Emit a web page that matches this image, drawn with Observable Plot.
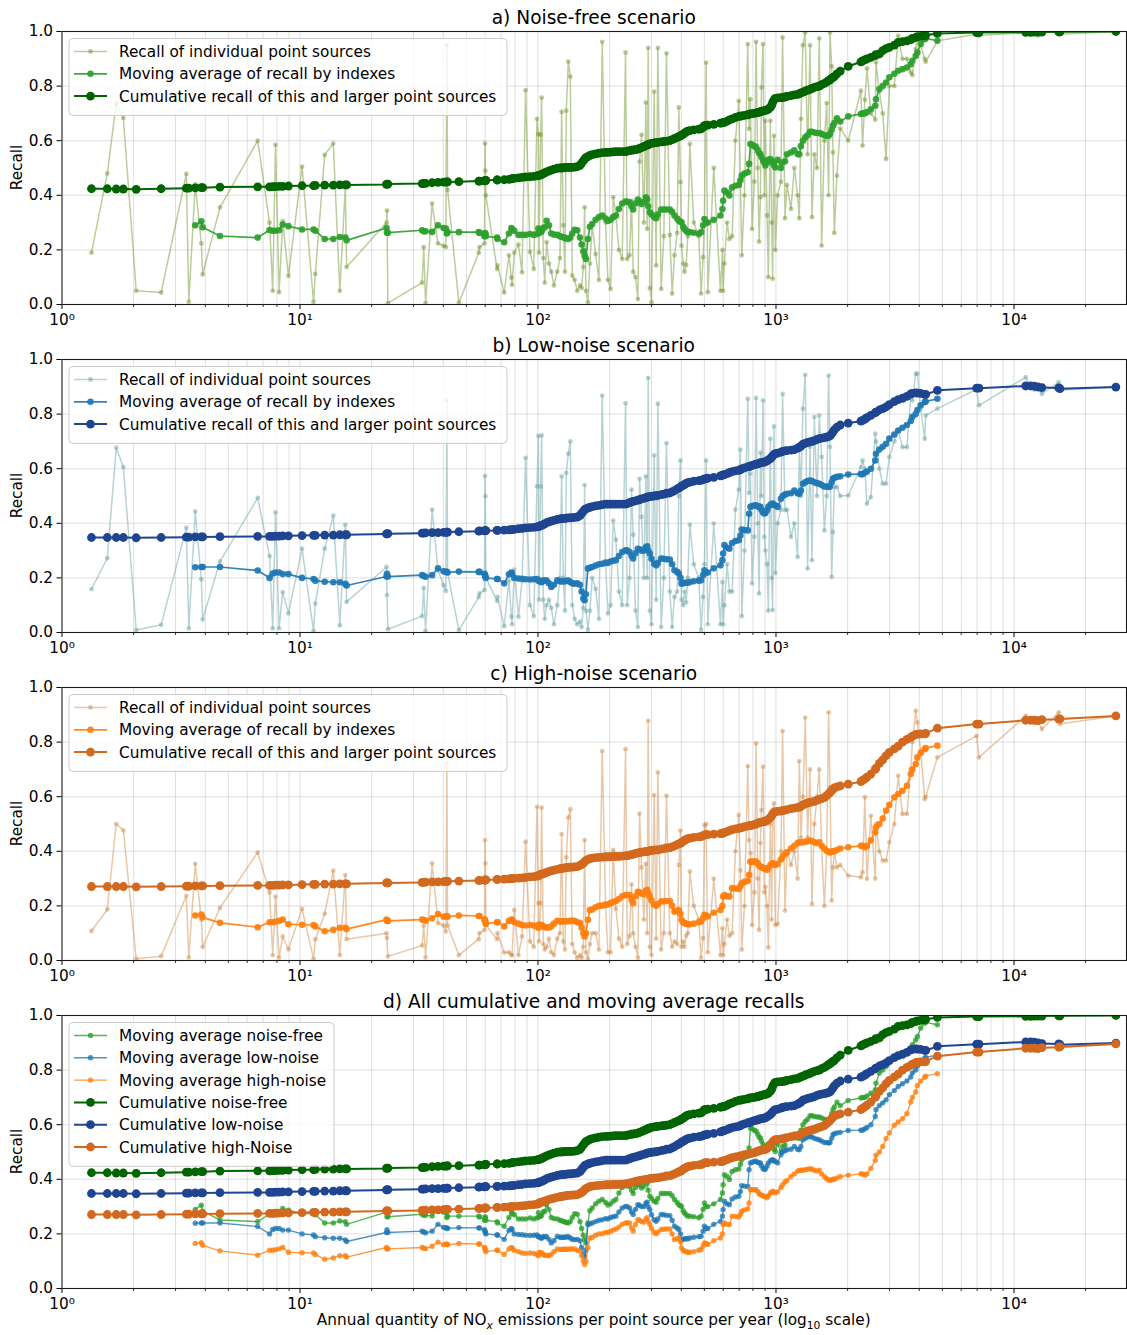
<!DOCTYPE html>
<html>
<head>
<meta charset="utf-8">
<script src="https://cdn.jsdelivr.net/npm/d3@7"></script>
<script src="https://cdn.jsdelivr.net/npm/@observablehq/plot@0.6"></script>
<style>
  body { margin: 0; background: #fff; }
  #chart { width: 1127px; }
  #chart svg { display: block; }
</style>
</head>
<body>
<div id="chart"></div>
<script>
// Annual NOx emissions of each point source (t/year), sorted ascending.
const emissions = [
  // below 100 t
  1.33, 1.55, 1.69, 1.81, 2.05, 2.61, 3.33, 3.41, 3.63, 3.85,
  3.9, 4.61, 6.64, 7.45, 7.68, 7.89, 8.17, 8.46, 8.94, 10.2,
  11.4, 11.6, 12.7, 13.8, 14.7, 15.5, 15.7, 23.1, 23.2, 23.4,
  32.6, 33.1, 33.7, 35.9, 38.0, 40.1, 41.0, 41.4, 41.7, 46.5,
  56.4, 56.8, 59.6, 59.9, 60.1, 60.4, 67.3, 67.6, 72.1, 75.5,
  77.3, 77.8, 79.5, 82.8, 85.7, 88.7, 92.5, 96.0, 99.0, 100.4,
  // 100 – 1000 t
  101, 102.6, 103.6, 105.3, 106.7, 108.7, 111.2, 113.7, 116.7, 120.5,
  123.7, 125.7, 127.7, 129.8, 131.5, 134.1, 136.7, 139.3, 142.5, 146.2,
  150.1, 152.5, 155, 157, 159, 162.1, 165.2, 169, 174.6, 180.3,
  186.2, 192.3, 196.7, 201.8, 207.1, 212.5, 218.8, 225.9, 233.3, 237.1,
  242.5, 247.2, 251.2, 256.9, 262.8, 267.1, 272.3, 278.5, 283.9, 287.6,
  290.4, 295.1, 299.9, 307.7, 313.7, 318.8, 329.2, 337.8, 346.7, 358,
  366.2, 374.5, 384.3, 390.6, 396.9, 400.8, 407.3, 412.6, 419.3, 426.1,
  434.4, 451.4, 473.7, 484.5, 494, 500.5, 508.6, 516.9, 547.7, 584.2,
  595.6, 599.5, 607.3, 623.1, 637.4, 654.1, 675.5, 697.6, 708.9, 718.1,
  736.9, 761, 770.8, 780.8, 793.5, 811.7, 824.9, 838.3, 849.2, 860.2,
  868.6, 882.2, 893.6, 902.3, 917, 928.8, 946.9, 959.2, 968.3, 980.9,
  993.6,
  // 1000 – 5000 t
  1016, 1049, 1066, 1091, 1112, 1156, 1194, 1233, 1253, 1273,
  1298, 1327, 1358, 1390, 1416, 1449, 1487, 1520, 1555, 1597,
  1633, 1664, 1686, 1714, 1735, 1758, 1803, 1862, 2011, 2274,
  2311, 2362, 2411, 2504, 2613, 2631, 2718, 2808, 2900, 2994,
  3142, 3262, 3399, 3548, 3684, 3742, 3865, 3927, 4055, 4217,
  4256, 4766,
  // largest sources
  6966, 7130, 11200, 11750, 12170, 12600, 13100, 15420, 15600, 26800
];

// ---------- noise-free scenario ----------
const recallFree = [
  0.19, 0.48, 0.737, 0.683, 0.05, 0.044, 0.478, 0.01, 0.44, 0.224,
  0.11, 0.356, 0.60, 0.30, 0.05, 0.585, 0.045, 0.305, 0.105, 0.505,
  0.01, 0.112, 0.548, 0.59, 0.05, 0.43, 0.137, 0.30, 0.344, 0.005,
  0.08, 0.21, 0.005, 0.37, 0.224, 0.215, 0.21, 0.95, 0.42, 0.006,
  0.19, 0.21, 0.224, 0.59, 0.49, 0.40, 0.13, 0.143, 0.044, 0.18,
  0.098, 0.072, 0.19, 0.22, 0.118, 0.785, 0.193, 0.13, 0.68, 0.624,
  0.19, 0.622, 0.758, 0.17, 0.08, 0.228, 0.15, 0.12, 0.07, 0.12,
  0.17, 0.706, 0.29, 0.12, 0.71, 0.89, 0.835, 0.106, 0.09, 0.05,
  0.07, 0.06, 0.137, 0.356, 0.05, 0.008, 0.15, 0.29, 0.185, 0.09,
  0.962, 0.3, 0.09, 0.057, 0.393, 0.328, 0.2, 0.167, 0.923, 0.167,
  0.18, 0.38, 0.12, 0.1, 0.02, 0.523, 0.622, 0.3, 0.74, 0.277,
  0.94, 0.06, 0.008, 0.78, 0.143, 0.94, 0.057, 0.25, 0.92, 0.255,
  0.04, 0.18, 0.262, 0.722, 0.448, 0.216, 0.15, 0.12, 0.145, 0.25,
  0.588, 0.3, 0.25, 0.04, 0.173, 0.313, 0.886, 0.045, 0.5, 0.05,
  0.2, 0.05, 0.15, 0.3, 0.24, 0.25, 0.6, 0.746, 0.45, 0.18,
  0.4, 0.954, 0.643, 0.752, 0.277, 0.45, 0.962, 0.5, 0.23, 0.393,
  0.795, 0.954, 0.4, 0.673, 0.326, 0.1, 0.673, 0.3, 0.094, 0.618,
  0.2,
  0.4, 0.45, 0.978, 0.316, 0.438, 0.35, 0.5, 0.4, 0.316, 0.68,
  0.95, 0.996, 0.55, 0.95, 0.32, 0.55, 0.5, 0.975, 0.216, 0.6,
  0.738, 0.4, 0.996, 0.872, 0.557, 0.262, 0.472, 0.645, 0.6, 0.783,
  0.582, 0.75, 0.865, 0.7, 0.677, 0.887, 0.78, 0.7, 0.533, 0.8,
  0.8, 0.984, 0.9, 0.9, 0.85, 0.84, 0.935, 0.996, 0.95, 0.9,
  0.889, 0.966,
  0.99, 0.985, 0.996, 0.99, 0.997, 0.985, 0.997, 0.998, 0.99, 1.0
];
const movingFree = [
  null, null, null, null, null, null, null, null, 0.29, 0.305,
  0.283, 0.251, 0.245, 0.273, 0.27, 0.27, 0.272, 0.293, 0.287, 0.275,
  0.275, 0.27, 0.24, 0.24, 0.247, 0.245, 0.235, 0.28, 0.263, 0.263,
  0.272, 0.268, 0.268, 0.266, 0.29, 0.28, 0.278, 0.26, 0.265, 0.265,
  0.265, 0.262, 0.25, 0.262, 0.26, 0.25, 0.245, 0.24, 0.228, 0.26,
  0.28, 0.275, 0.27, 0.255, 0.255, 0.255, 0.258, 0.255, 0.258, 0.278,
  0.262, 0.265, 0.268, 0.28, 0.283, 0.307, 0.29, 0.26, 0.256, 0.255,
  0.25, 0.248, 0.246, 0.244, 0.242, 0.24, 0.245, 0.26, 0.274, 0.272,
  0.245, 0.22, 0.195, 0.179, 0.167, 0.24, 0.285, 0.295, 0.31, 0.32,
  0.326, 0.315, 0.306, 0.31, 0.32, 0.326, 0.35, 0.37, 0.377, 0.376,
  0.374, 0.36, 0.348, 0.37, 0.384, 0.378, 0.368, 0.375, 0.393, 0.385,
  0.36, 0.338, 0.33, 0.32, 0.316, 0.33, 0.348, 0.348, 0.348, 0.348,
  0.34, 0.326, 0.315, 0.307, 0.303, 0.301, 0.285, 0.277, 0.27, 0.265,
  0.265, 0.263, 0.259, 0.265, 0.29, 0.313, 0.3, 0.3, 0.31, 0.326,
  0.35, 0.38, 0.417, 0.41, 0.399, 0.429, 0.435, 0.438, 0.455, 0.472,
  0.48, 0.484, 0.515, 0.588, 0.585, 0.58, 0.576, 0.565, 0.555, 0.551,
  0.54, 0.528, 0.52, 0.509, 0.52, 0.53, 0.533, 0.525, 0.521, 0.51,
  0.502,
  0.53, 0.5, 0.52, 0.525, 0.55, 0.557, 0.565, 0.551, 0.55, 0.58,
  0.6, 0.612, 0.62, 0.633, 0.633, 0.63, 0.628, 0.628, 0.625, 0.62,
  0.618, 0.618, 0.625, 0.64, 0.655, 0.665, 0.682, 0.67, 0.689, 0.698,
  0.7, 0.7, 0.705, 0.715, 0.728, 0.752, 0.789, 0.8, 0.813, 0.832,
  0.845, 0.856, 0.862, 0.868, 0.88, 0.893, 0.91, 0.923, 0.954, 0.972,
  0.975, 0.966,
  null, null, null, null, null, null, null, null, null, null
];
const cumulativeFree = [
  0.424, 0.424, 0.423, 0.423, 0.422, 0.424, 0.426, 0.426, 0.427, 0.428,
  0.428, 0.43, 0.431, 0.431, 0.432, 0.432, 0.433, 0.433, 0.434, 0.435,
  0.435, 0.436, 0.437, 0.437, 0.438, 0.438, 0.438, 0.44, 0.441, 0.441,
  0.443, 0.444, 0.444, 0.446, 0.447, 0.448, 0.448, 0.449, 0.449, 0.45,
  0.452, 0.452, 0.453, 0.454, 0.455, 0.455, 0.456, 0.456, 0.457, 0.458,
  0.46, 0.461, 0.462, 0.464, 0.466, 0.467, 0.468, 0.469, 0.471, 0.472,
  0.473, 0.475, 0.477, 0.479, 0.482, 0.486, 0.489, 0.492, 0.496, 0.499,
  0.5, 0.5, 0.501, 0.501, 0.502, 0.502, 0.502, 0.502, 0.503, 0.505,
  0.51, 0.518, 0.526, 0.533, 0.538, 0.542, 0.546, 0.549, 0.552, 0.554,
  0.556, 0.557, 0.557, 0.558, 0.559, 0.56, 0.56, 0.56, 0.56, 0.562,
  0.564, 0.565, 0.566, 0.567, 0.569, 0.572, 0.575, 0.578, 0.582, 0.584,
  0.586, 0.588, 0.59, 0.592, 0.593, 0.594, 0.596, 0.597, 0.598, 0.6,
  0.604, 0.608, 0.612, 0.615, 0.618, 0.62, 0.624, 0.628, 0.632, 0.635,
  0.637, 0.64, 0.642, 0.643, 0.65, 0.655, 0.656, 0.657, 0.66, 0.664,
  0.665, 0.666, 0.667, 0.672, 0.676, 0.68, 0.685, 0.689, 0.69, 0.691,
  0.693, 0.695, 0.697, 0.698, 0.699, 0.7, 0.702, 0.703, 0.705, 0.706,
  0.707, 0.709, 0.71, 0.711, 0.713, 0.716, 0.722, 0.73, 0.74, 0.75,
  0.755,
  0.757, 0.758, 0.758, 0.76, 0.762, 0.765, 0.768, 0.77, 0.772, 0.775,
  0.778, 0.782, 0.785, 0.788, 0.792, 0.795, 0.798, 0.8, 0.805, 0.81,
  0.815, 0.82, 0.823, 0.828, 0.832, 0.835, 0.845, 0.855, 0.872, 0.889,
  0.892, 0.896, 0.9, 0.905, 0.912, 0.915, 0.918, 0.93, 0.937, 0.942,
  0.95, 0.96, 0.963, 0.966, 0.97, 0.975, 0.978, 0.98, 0.982, 0.985,
  0.986, 0.993,
  0.996, 0.996, 0.997, 0.997, 0.998, 0.998, 0.998, 0.999, 0.999, 1.0
];

// ---------- low-noise scenario ----------
const recallLow = [
  0.159, 0.272, 0.677, 0.606, 0.009, 0.028, 0.384, 0.015, 0.444, 0.195,
  0.048, 0.26, 0.493, 0.28, 0.015, 0.44, 0.015, 0.148, 0.07, 0.307,
  0.005, 0.106, 0.307, 0.428, 0.026, 0.395, 0.112, 0.24, 0.137, 0.012,
  0.06, 0.163, 0.005, 0.45, 0.228, 0.173, 0.152, 0.852, 0.22, 0.009,
  0.13, 0.143, 0.155, 0.574, 0.499, 0.2, 0.116, 0.13, 0.023, 0.19,
  0.058, 0.03, 0.23, 0.058, 0.19, 0.64, 0.1, 0.06, 0.535, 0.72,
  0.12, 0.535, 0.722, 0.12, 0.05, 0.1, 0.12, 0.09, 0.03, 0.1,
  0.2, 0.572, 0.2, 0.08, 0.585, 0.655, 0.70, 0.1, 0.05, 0.03,
  0.04, 0.02, 0.09, 0.54, 0.08, 0.01, 0.08, 0.2, 0.16, 0.05,
  0.868, 0.25, 0.07, 0.1, 0.41, 0.34, 0.15, 0.1, 0.84, 0.1,
  0.2, 0.523, 0.358, 0.08, 0.02, 0.563, 0.423, 0.2, 0.572, 0.2,
  0.933, 0.08, 0.03, 0.649, 0.12, 0.838, 0.02, 0.2, 0.694, 0.15,
  0.02, 0.13, 0.15, 0.5, 0.63, 0.12, 0.1, 0.15, 0.11, 0.2,
  0.395, 0.25, 0.2, 0.01, 0.13, 0.25, 0.63, 0.03, 0.4, 0.03,
  0.185, 0.03, 0.1, 0.25, 0.15, 0.15, 0.45, 0.523, 0.67, 0.06,
  0.3, 0.856, 0.511, 0.582, 0.18, 0.35, 0.859, 0.4, 0.143, 0.659,
  0.5, 0.85, 0.35, 0.3, 0.25, 0.08, 0.71, 0.2, 0.082, 0.755,
  0.218,
  0.4, 0.45, 0.874, 0.448, 0.45, 0.35, 0.4, 0.277, 0.673, 0.5,
  0.82, 0.944, 0.234, 0.68, 0.265, 0.789, 0.5, 0.795, 0.643, 0.374,
  0.5, 0.941, 0.68, 0.204, 0.368, 0.533, 0.533, 0.5, 0.502, 0.606,
  0.63, 0.6, 0.472, 0.496, 0.728, 0.7, 0.6, 0.545, 0.545, 0.643,
  0.7, 0.74, 0.679, 0.679, 0.862, 0.85, 0.948, 0.948, 0.82, 0.71,
  0.795, 0.82,
  0.89, 0.832, 0.935, 0.9, 0.89, 0.89, 0.874, 0.917, 0.887, 0.899
];
const movingLow = [
  null, null, null, null, null, null, null, null, 0.239, 0.24,
  0.24, 0.24, 0.227, 0.2, 0.216, 0.22, 0.22, 0.214, 0.214, 0.2,
  0.196, 0.19, 0.186, 0.184, 0.184, 0.178, 0.172, 0.205, 0.215, 0.205,
  0.21, 0.207, 0.204, 0.21, 0.235, 0.224, 0.222, 0.222, 0.22, 0.223,
  0.222, 0.222, 0.215, 0.21, 0.205, 0.2, 0.196, 0.196, 0.18, 0.213,
  0.22, 0.215, 0.2, 0.198, 0.197, 0.195, 0.194, 0.195, 0.196, 0.19,
  0.19, 0.186, 0.184, 0.19, 0.19, 0.19, 0.18, 0.167, 0.175, 0.191,
  0.188, 0.187, 0.188, 0.188, 0.189, 0.19, 0.185, 0.18, 0.179, 0.18,
  0.175, 0.15, 0.125, 0.118, 0.14, 0.234, 0.237, 0.24, 0.245, 0.25,
  0.252, 0.256, 0.255, 0.26, 0.263, 0.265, 0.28, 0.295, 0.301, 0.3,
  0.295, 0.28, 0.271, 0.29, 0.307, 0.305, 0.3, 0.3, 0.312, 0.316,
  0.3, 0.289, 0.27, 0.252, 0.246, 0.255, 0.271, 0.27, 0.268, 0.267,
  0.25, 0.228, 0.222, 0.216, 0.2, 0.179, 0.18, 0.182, 0.182, 0.182,
  0.185, 0.188, 0.19, 0.191, 0.21, 0.228, 0.22, 0.22, 0.235, 0.246,
  0.265, 0.289, 0.32, 0.31, 0.307, 0.328, 0.335, 0.338, 0.355, 0.377,
  0.375, 0.374, 0.435, 0.46, 0.463, 0.465, 0.466, 0.462, 0.46, 0.46,
  0.45, 0.44, 0.436, 0.438, 0.448, 0.46, 0.468, 0.47, 0.472, 0.468,
  0.465,
  0.46, 0.49, 0.5, 0.505, 0.508, 0.51, 0.52, 0.51, 0.508, 0.52,
  0.545, 0.55, 0.555, 0.557, 0.555, 0.55, 0.547, 0.545, 0.54, 0.535,
  0.535, 0.533, 0.535, 0.55, 0.563, 0.567, 0.57, 0.572, 0.579, 0.58,
  0.58, 0.585, 0.59, 0.6, 0.63, 0.655, 0.67, 0.68, 0.691, 0.71,
  0.725, 0.74, 0.75, 0.76, 0.775, 0.79, 0.8, 0.815, 0.832, 0.844,
  0.846, 0.856,
  null, null, null, null, null, null, null, null, null, null
];
const cumulativeLow = [
  0.348, 0.348, 0.348, 0.348, 0.347, 0.348, 0.349, 0.349, 0.35, 0.35,
  0.35, 0.351, 0.352, 0.352, 0.352, 0.353, 0.353, 0.354, 0.354, 0.355,
  0.356, 0.356, 0.357, 0.357, 0.358, 0.358, 0.358, 0.361, 0.361, 0.362,
  0.364, 0.364, 0.365, 0.366, 0.366, 0.367, 0.367, 0.368, 0.368, 0.369,
  0.371, 0.372, 0.372, 0.373, 0.373, 0.373, 0.374, 0.374, 0.375, 0.376,
  0.377, 0.377, 0.378, 0.38, 0.381, 0.383, 0.384, 0.385, 0.387, 0.388,
  0.389, 0.391, 0.392, 0.395, 0.398, 0.402, 0.405, 0.408, 0.411, 0.414,
  0.416, 0.417, 0.418, 0.418, 0.419, 0.42, 0.42, 0.421, 0.422, 0.423,
  0.428, 0.436, 0.444, 0.45, 0.453, 0.456, 0.458, 0.461, 0.464, 0.466,
  0.468, 0.47, 0.47, 0.47, 0.47, 0.47, 0.47, 0.47, 0.47, 0.472,
  0.476, 0.478, 0.48, 0.482, 0.485, 0.487, 0.489, 0.491, 0.494, 0.496,
  0.497, 0.498, 0.499, 0.5, 0.501, 0.502, 0.505, 0.507, 0.51, 0.511,
  0.515, 0.52, 0.526, 0.529, 0.533, 0.536, 0.539, 0.542, 0.546, 0.549,
  0.551, 0.554, 0.556, 0.557, 0.56, 0.563, 0.564, 0.565, 0.568, 0.574,
  0.576, 0.577, 0.578, 0.582, 0.586, 0.589, 0.592, 0.594, 0.597, 0.599,
  0.603, 0.607, 0.608, 0.609, 0.612, 0.615, 0.617, 0.618, 0.62, 0.621,
  0.622, 0.623, 0.624, 0.626, 0.629, 0.632, 0.637, 0.642, 0.647, 0.652,
  0.655,
  0.657, 0.661, 0.663, 0.665, 0.666, 0.668, 0.67, 0.675, 0.679, 0.683,
  0.69, 0.693, 0.696, 0.698, 0.7, 0.703, 0.707, 0.71, 0.712, 0.714,
  0.716, 0.718, 0.72, 0.728, 0.735, 0.742, 0.752, 0.76, 0.767, 0.774,
  0.777, 0.782, 0.787, 0.795, 0.805, 0.807, 0.815, 0.82, 0.826, 0.835,
  0.846, 0.853, 0.858, 0.865, 0.874, 0.876, 0.878, 0.877, 0.876, 0.872,
  0.872, 0.887,
  0.895, 0.895, 0.903, 0.903, 0.902, 0.9, 0.897, 0.896, 0.893, 0.899
];

// ---------- high-noise scenario ----------
const recallHigh = [
  0.108, 0.187, 0.50, 0.477, 0.006, 0.016, 0.237, 0.011, 0.354, 0.149,
  0.049, 0.193, 0.396, 0.249, 0.02, 0.234, 0.011, 0.088, 0.041, 0.189,
  0.006, 0.078, 0.171, 0.329, 0.02, 0.313, 0.078, 0.10, 0.082, 0.015,
  0.055, 0.128, 0.011, 0.356, 0.137, 0.128, 0.106, 0.724, 0.128, 0.02,
  0.078, 0.10, 0.112, 0.441, 0.356, 0.13, 0.078, 0.10, 0.029, 0.03,
  0.02, 0.02, 0.185, 0.02, 0.088, 0.435, 0.07, 0.05, 0.563, 0.21,
  0.07, 0.21, 0.56, 0.06, 0.04, 0.05, 0.08, 0.03, 0.02, 0.08,
  0.1, 0.463, 0.07, 0.04, 0.378, 0.524, 0.554, 0.06, 0.03, 0.01,
  0.02, 0.01, 0.05, 0.441, 0.03, 0.005, 0.06, 0.1, 0.1, 0.04,
  0.767, 0.2, 0.03, 0.03, 0.405, 0.19, 0.08, 0.05, 0.774, 0.06,
  0.09, 0.279, 0.1, 0.05, 0.01, 0.538, 0.341, 0.15, 0.354, 0.1,
  0.878, 0.05, 0.02, 0.606, 0.08, 0.689, 0.04, 0.1, 0.604, 0.1,
  0.05, 0.07, 0.06, 0.35, 0.476, 0.05, 0.07, 0.05, 0.09, 0.1,
  0.326, 0.2, 0.15, 0.01, 0.082, 0.496, 0.5, 0.03, 0.3, 0.02,
  0.118, 0.02, 0.06, 0.15, 0.09, 0.1, 0.4, 0.533, 0.33, 0.04,
  0.2, 0.712, 0.441, 0.393, 0.13, 0.25, 0.795, 0.3, 0.112, 0.43,
  0.551, 0.71, 0.25, 0.27, 0.2, 0.048, 0.5, 0.15, 0.551, 0.576,
  0.13,
  0.134, 0.4, 0.841, 0.183, 0.4, 0.35, 0.4, 0.3, 0.73, 0.45,
  0.6, 0.89, 0.451, 0.7, 0.207, 0.5, 0.6, 0.7, 0.415, 0.2,
  0.4, 0.909, 0.634, 0.22, 0.341, 0.4, 0.341, 0.35, 0.311, 0.305,
  0.323, 0.598, 0.299, 0.53, 0.3, 0.5, 0.4, 0.366, 0.366, 0.433,
  0.5, 0.677, 0.537, 0.537, 0.7, 0.8, 0.915, 0.872, 0.768, 0.591,
  0.6, 0.744,
  0.823, 0.744, 0.896, 0.88, 0.87, 0.88, 0.848, 0.909, 0.866, 0.896
];
const movingHigh = [
  null, null, null, null, null, null, null, null, 0.165, 0.168,
  0.158, 0.138, 0.122, 0.14, 0.14, 0.142, 0.145, 0.15, 0.133, 0.131,
  0.13, 0.125, 0.107, 0.112, 0.12, 0.12, 0.115, 0.15, 0.145, 0.145,
  0.15, 0.148, 0.146, 0.155, 0.17, 0.16, 0.162, 0.163, 0.16, 0.165,
  0.163, 0.163, 0.15, 0.148, 0.14, 0.135, 0.14, 0.14, 0.125, 0.145,
  0.15, 0.148, 0.14, 0.135, 0.13, 0.128, 0.13, 0.128, 0.125, 0.12,
  0.132, 0.13, 0.13, 0.125, 0.122, 0.121, 0.121, 0.125, 0.135, 0.145,
  0.143, 0.143, 0.144, 0.144, 0.144, 0.144, 0.145, 0.145, 0.145, 0.14,
  0.137, 0.12, 0.1, 0.088, 0.1, 0.149, 0.185, 0.187, 0.195, 0.2,
  0.201, 0.205, 0.205, 0.21, 0.214, 0.218, 0.225, 0.235, 0.24, 0.24,
  0.24, 0.222, 0.21, 0.235, 0.252, 0.25, 0.245, 0.243, 0.255, 0.259,
  0.245, 0.234, 0.22, 0.205, 0.201, 0.207, 0.216, 0.217, 0.218, 0.218,
  0.2, 0.179, 0.182, 0.185, 0.17, 0.149, 0.14, 0.137, 0.135, 0.133,
  0.133, 0.135, 0.14, 0.143, 0.155, 0.167, 0.165, 0.161, 0.175, 0.185,
  0.2, 0.234, 0.24, 0.235, 0.234, 0.265, 0.264, 0.262, 0.272, 0.283,
  0.288, 0.291, 0.313, 0.362, 0.362, 0.362, 0.362, 0.355, 0.347, 0.344,
  0.342, 0.339, 0.338, 0.336, 0.332, 0.34, 0.35, 0.352, 0.356, 0.354,
  0.35,
  0.354, 0.37, 0.38, 0.39, 0.396, 0.41, 0.42, 0.43, 0.432, 0.433,
  0.433, 0.435, 0.437, 0.439, 0.437, 0.433, 0.43, 0.433, 0.42, 0.41,
  0.402, 0.398, 0.396, 0.398, 0.4, 0.4, 0.405, 0.41, 0.415, 0.42,
  0.42, 0.415, 0.42, 0.44, 0.47, 0.488, 0.5, 0.52, 0.549, 0.57,
  0.598, 0.61, 0.622, 0.64, 0.683, 0.7, 0.72, 0.744, 0.76, 0.774,
  0.778, 0.787,
  null, null, null, null, null, null, null, null, null, null
];
const cumulativeHigh = [
  0.271, 0.271, 0.271, 0.271, 0.27, 0.271, 0.272, 0.272, 0.273, 0.273,
  0.273, 0.274, 0.275, 0.275, 0.275, 0.276, 0.276, 0.277, 0.277, 0.278,
  0.279, 0.279, 0.28, 0.28, 0.281, 0.281, 0.281, 0.284, 0.284, 0.284,
  0.286, 0.286, 0.287, 0.288, 0.288, 0.289, 0.289, 0.29, 0.29, 0.291,
  0.293, 0.293, 0.294, 0.294, 0.295, 0.295, 0.297, 0.297, 0.298, 0.299,
  0.3, 0.3, 0.301, 0.302, 0.303, 0.304, 0.306, 0.307, 0.309, 0.31,
  0.313, 0.315, 0.316, 0.318, 0.32, 0.323, 0.326, 0.328, 0.331, 0.334,
  0.336, 0.337, 0.338, 0.339, 0.34, 0.341, 0.342, 0.342, 0.343, 0.344,
  0.348, 0.352, 0.357, 0.362, 0.366, 0.37, 0.373, 0.375, 0.377, 0.378,
  0.379, 0.38, 0.38, 0.38, 0.381, 0.381, 0.381, 0.382, 0.383, 0.384,
  0.386, 0.388, 0.39, 0.392, 0.394, 0.395, 0.397, 0.398, 0.4, 0.4,
  0.401, 0.402, 0.403, 0.404, 0.405, 0.405, 0.408, 0.41, 0.412, 0.413,
  0.416, 0.42, 0.424, 0.427, 0.429, 0.432, 0.436, 0.44, 0.444, 0.446,
  0.448, 0.451, 0.453, 0.454, 0.457, 0.46, 0.461, 0.461, 0.463, 0.465,
  0.466, 0.467, 0.468, 0.472, 0.476, 0.479, 0.482, 0.484, 0.486, 0.487,
  0.49, 0.492, 0.494, 0.494, 0.496, 0.498, 0.5, 0.502, 0.505, 0.506,
  0.507, 0.509, 0.509, 0.51, 0.513, 0.517, 0.523, 0.53, 0.537, 0.542,
  0.545,
  0.546, 0.547, 0.549, 0.551, 0.553, 0.556, 0.558, 0.561, 0.562, 0.565,
  0.57, 0.574, 0.577, 0.579, 0.581, 0.583, 0.587, 0.59, 0.593, 0.597,
  0.604, 0.61, 0.615, 0.622, 0.627, 0.632, 0.636, 0.64, 0.646, 0.655,
  0.66, 0.665, 0.672, 0.683, 0.7, 0.705, 0.722, 0.735, 0.75, 0.762,
  0.775, 0.785, 0.8, 0.81, 0.817, 0.822, 0.827, 0.829, 0.83, 0.83,
  0.832, 0.851,
  0.866, 0.866, 0.88, 0.88, 0.88, 0.879, 0.882, 0.884, 0.885, 0.896
];

// Axis ticks
const decadeTicks = [1, 10, 100, 1000, 10000];
const recallTicks = [0, 0.2, 0.4, 0.6, 0.8, 1.0];

// ---------- drawing ----------
const FONT = "'DejaVu Sans', sans-serif";
const WIDTH = 1127;
const X_DOMAIN = [1, 29700];
const minorTicks = [];
for (const d of decadeTicks) for (let k = 2; k <= 9; k++) if (k * d <= X_DOMAIN[1]) minorTicks.push(k * d);

const colors = {
  freeInd: "#6b8e23", freeMA: "#2ca02c", freeCum: "#006400",
  lowInd: "#5f9ea0", lowMA: "#1f77b4", lowCum: "#1f4591",
  highInd: "#cd853f", highMA: "#ff7f0e", highCum: "#d2691e"
};

const styleInd = {lw: 1.5, r: 2.4, opacity: 0.45};
const styleMA = {lw: 1.7, r: 3.3, opacity: 0.92};
const styleCum = {lw: 2, r: 4.4, opacity: 1};
const styleMAd = {lw: 1.4, r: 2.7, opacity: 0.78};

const SUP = {"0": "\u2070", "1": "\u00b9", "2": "\u00b2", "3": "\u00b3", "4": "\u2074"};
const decadeLabel = d => "10" + String(Math.round(Math.log10(d))).split("").map(c => SUP[c]).join("");

const points = values => emissions
  .map((x, i) => ({x, y: values[i]}))
  .filter(d => d.y !== null && d.y !== undefined);

function panel({title, layers, legendItems, legendWidth, height, marginBottom, xLabel}) {
  const marks = [
    Plot.ruleX(minorTicks.concat(decadeTicks.slice(1)), {stroke: "#b0b0b0", strokeOpacity: 0.45, strokeWidth: 0.9}),
    Plot.ruleY([0.2, 0.4, 0.6, 0.8], {stroke: "#b0b0b0", strokeOpacity: 0.45, strokeWidth: 0.9})
  ];
  for (const L of layers) {
    const data = points(L.values);
    marks.push(Plot.line(data, {x: "x", y: "y", stroke: L.color, strokeWidth: L.lw, strokeOpacity: L.opacity, clip: true}));
    marks.push(Plot.dot(data, {x: "x", y: "y", r: L.r, fill: L.color, fillOpacity: L.opacity, stroke: "none", clip: true}));
  }
  marks.push(
    Plot.axisX(minorTicks, {tickSize: 3, tickFormat: () => "", label: null, color: "#000", strokeWidth: 0.8}),
    Plot.axisX(decadeTicks, {tickSize: 5, tickPadding: 5, tickFormat: decadeLabel, label: null, fontSize: 15.3, color: "#000", strokeWidth: 1}),
    Plot.axisY(recallTicks, {tickSize: 5, tickPadding: 4, tickFormat: d3.format(".1f"), label: null, fontSize: 15.3, color: "#000", strokeWidth: 1}),
    Plot.frame({stroke: "#1a1a1a", strokeWidth: 1.1})
  );

  const svg = Plot.plot({
    width: WIDTH, height,
    marginLeft: 61.5, marginRight: 1, marginTop: 31, marginBottom,
    x: {type: "log", domain: X_DOMAIN},
    y: {domain: [0, 1]},
    style: {fontFamily: FONT, fontSize: "15.3px", color: "#000", background: "#fff", overflow: "visible"},
    marks
  });

  const root = d3.select(svg);
  const centerX = 61.5 + (WIDTH - 1 - 61.5) / 2;

  root.append("text")
    .attr("x", centerX).attr("y", 24)
    .attr("text-anchor", "middle")
    .attr("font-family", FONT).attr("font-size", 18.6).attr("fill", "#000")
    .text(title);

  root.append("text")
    .attr("transform", `translate(17,${31 + 273 / 2}) rotate(-90)`)
    .attr("text-anchor", "middle").attr("dominant-baseline", "central")
    .attr("font-family", FONT).attr("font-size", 15.3).attr("fill", "#000")
    .text("Recall");

  // legend box in the upper-left corner
  const rowGap = 22.3, top = 38.5;
  const lg = root.append("g")
    .attr("font-family", FONT).attr("font-size", 15.3)
    .attr("text-anchor", "start");
  lg.append("rect")
    .attr("x", 69).attr("y", top)
    .attr("width", legendWidth).attr("height", 16 + rowGap * legendItems.length - 6)
    .attr("rx", 4).attr("fill", "#fff").attr("fill-opacity", 0.8)
    .attr("stroke", "#cccccc").attr("stroke-width", 1);
  legendItems.forEach((it, i) => {
    const y = top + 13 + i * rowGap;
    lg.append("line").attr("x1", 74).attr("x2", 107).attr("y1", y).attr("y2", y)
      .attr("stroke", it.color).attr("stroke-width", it.lw).attr("stroke-opacity", it.opacity);
    lg.append("circle").attr("cx", 90.5).attr("cy", y).attr("r", it.r)
      .attr("fill", it.color).attr("fill-opacity", it.opacity);
    lg.append("text").attr("x", 119).attr("y", y).attr("dy", "0.36em")
      .attr("text-anchor", "start").attr("fill", "#000").text(it.label);
  });

  if (xLabel) {
    const t = root.append("text")
      .attr("x", centerX).attr("y", height - 10)
      .attr("text-anchor", "middle")
      .attr("font-family", FONT).attr("font-size", 15.3).attr("fill", "#000");
    t.append("tspan").text("Annual quantity of NO");
    t.append("tspan").attr("font-size", 10.7).attr("font-style", "italic").attr("dy", 3.5).text("x");
    t.append("tspan").attr("dy", -3.5).text(" emissions per point source per year (log");
    t.append("tspan").attr("font-size", 10.7).attr("dy", 3.5).text("10");
    t.append("tspan").attr("dy", -3.5).text(" scale)");
  }
  return svg;
}

const layer = (values, color, s) => ({values, color, ...s});
const item = (label, color, s) => ({label, color, ...s});

const scenarios = [
  {title: "a) Noise-free scenario", ind: recallFree, ma: movingFree, cum: cumulativeFree, c: ["freeInd", "freeMA", "freeCum"]},
  {title: "b) Low-noise scenario", ind: recallLow, ma: movingLow, cum: cumulativeLow, c: ["lowInd", "lowMA", "lowCum"]},
  {title: "c) High-noise scenario", ind: recallHigh, ma: movingHigh, cum: cumulativeHigh, c: ["highInd", "highMA", "highCum"]}
];

const container = document.getElementById("chart");

for (const s of scenarios) {
  const [ci, cm, cc] = s.c.map(k => colors[k]);
  container.appendChild(panel({
    title: s.title,
    height: 328, marginBottom: 24, legendWidth: 438,
    layers: [layer(s.ind, ci, styleInd), layer(s.ma, cm, styleMA), layer(s.cum, cc, styleCum)],
    legendItems: [
      item("Recall of individual point sources", ci, styleInd),
      item("Moving average of recall by indexes", cm, styleMA),
      item("Cumulative recall of this and larger point sources", cc, styleCum)
    ]
  }));
}

container.appendChild(panel({
  title: "d) All cumulative and moving average recalls",
  height: 351, marginBottom: 47, legendWidth: 265, xLabel: true,
  layers: [
    layer(movingFree, colors.freeMA, styleMAd),
    layer(movingLow, colors.lowMA, styleMAd),
    layer(movingHigh, colors.highMA, styleMAd),
    layer(cumulativeFree, colors.freeCum, styleCum),
    layer(cumulativeLow, colors.lowCum, styleCum),
    layer(cumulativeHigh, colors.highCum, styleCum)
  ],
  legendItems: [
    item("Moving average noise-free", colors.freeMA, styleMAd),
    item("Moving average low-noise", colors.lowMA, styleMAd),
    item("Moving average high-noise", colors.highMA, styleMAd),
    item("Cumulative noise-free", colors.freeCum, styleCum),
    item("Cumulative low-noise", colors.lowCum, styleCum),
    item("Cumulative high-Noise", colors.highCum, styleCum)
  ]
}));

// sanity check on series lengths
[recallFree, movingFree, cumulativeFree, recallLow, movingLow, cumulativeLow, recallHigh, movingHigh, cumulativeHigh]
  .forEach((a, i) => { if (a.length !== emissions.length) console.error("series", i, "length", a.length, "expected", emissions.length); });
</script>
</body>
</html>
